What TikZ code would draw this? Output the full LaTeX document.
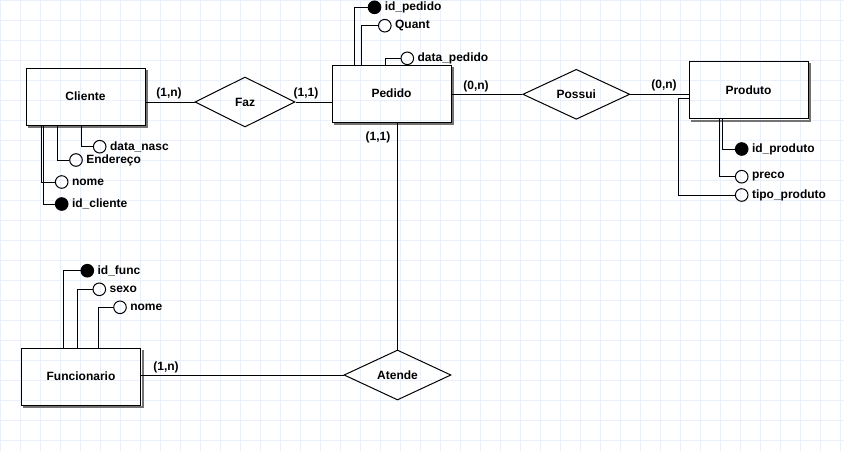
\documentclass[tikz,border=0pt]{standalone}
\usepackage{fontspec}
\setmainfont{Liberation Sans}
\usetikzlibrary{shapes.geometric}

\definecolor{corgrade}{RGB}{233,240,249}

\tikzset{
  grade/.style={draw=corgrade, line width=1pt},
  entidade/.style={draw, minimum width=119pt, minimum height=57pt, inner sep=0pt},
  sombra/.style={draw=black!55, line width=2pt},
  relac/.style={draw, diamond, aspect=2, inner sep=0pt, minimum height=50pt},
  atrib/.style={draw, circle, minimum size=12.6pt, inner sep=0pt,
    label={[inner sep=1pt, label distance=2pt]right:#1}},
  chave/.style={atrib=#1, fill=black},
  card/.style={inner sep=0pt}
}

\begin{document}
\begin{tikzpicture}[x=1pt, y=-1pt, line width=1pt, font=\fontsize{12}{14}\selectfont\bfseries]
\useasboundingbox[fill=white] (0,0) rectangle (844,451);
% grade de fundo
\foreach \gx in {0,20,...,840} \draw[grade] (\gx,0) -- (\gx,451);
\foreach \gy in {0,20,...,440} \draw[grade] (0,\gy) -- (844,\gy);

% entidades
\node[entidade] (cliente) at (85.5,96.5) {Cliente};
\node[entidade] (pedido) at (391.5,93.5) {Pedido};
\node[entidade] (produto) at (748.5,90) {Produto};
\node[entidade] (funcionario) at (81,376.5) {Funcionario};
\foreach \e in {cliente,pedido,produto,funcionario}
  \draw[sombra] ([shift={(1.5,2)}]\e.north east) -- ([shift={(1.5,1.5)}]\e.south east) -- ([shift={(2,1.5)}]\e.south west);

% relacionamentos
\node[relac, minimum width=100pt] (faz) at (245,102) {Faz};
\node[relac, minimum width=107pt] (possui) at (576.3,94.3) {Possui};
\node[relac, minimum width=107pt] (atende) at (397.5,375) {Atende};

\draw (faz.west) -- (faz.west -| cliente.east);
\draw (faz.east) -- (faz.east -| pedido.west);
\draw (possui.west) -- (possui.west -| pedido.east);
\draw (possui.east) -- (possui.east -| produto.west);
\draw (atende.north) -- (atende.north |- pedido.south);
\draw (atende.west) -- (atende.west -| funcionario.east);

% cardinalidades
\node[card] (c1) at (169,93) {(1,n)};
\node[card] (c2) at (306,93) {(1,1)};
\node[card] (c3) at (476,86) {(0,n)};
\node[card] (c4) at (664,85) {(0,n)};
\node[card] (c5) at (378,137) {(1,1)};
\node[card] (c6) at (166,367) {(1,n)};

% atributos Cliente
\node[atrib=data\_nasc] (dnasc) at (99.7,146.7) {};
\node[atrib=Endereço] (ender) at (76,160) {};
\node[atrib=nome] (cnome) at (61.7,182) {};
\node[chave=id\_cliente] (idcli) at (61.7,204) {};
\draw (dnasc.west) -| ([xshift=56pt]cliente.south west);
\draw (ender.west) -| ([xshift=32pt]cliente.south west);
\draw (cnome.west) -| ([xshift=16pt]cliente.south west);
\draw (idcli.west) -| ([xshift=18pt]cliente.south west);

% atributos Pedido
\node[chave=id\_pedido] (idped) at (374.5,7.3) {};
\node[atrib=Quant] (quant) at (384.8,25.7) {};
\node[atrib=data\_pedido] (dped) at (407.3,58.3) {};
\draw (idped.west) -| ([xshift=23pt]pedido.north west);
\draw (quant.west) -| ([xshift=30pt]pedido.north west);
\draw (dped.west) -| ([xshift=54pt]pedido.north west);

% atributos Produto
\node[chave=id\_produto] (idprod) at (741.7,149) {};
\node[atrib=preco] (preco) at (741.7,176.7) {};
\node[atrib=tipo\_produto] (tipo) at (741.7,195) {};
\draw (idprod.west) -| ([xshift=34pt]produto.south west);
\draw (preco.west) -| ([xshift=31pt]produto.south west);
\draw ([yshift=-8pt]produto.west) -- ++(-10,0) |- (tipo.west);

% atributos Funcionario
\node[chave=id\_func] (idfunc) at (87.3,270.7) {};
\node[atrib=sexo] (sexo) at (99.3,289.3) {};
\node[atrib=nome] (fnome) at (120,307.3) {};
\draw (idfunc.west) -| ([xshift=42pt]funcionario.north west);
\draw (sexo.west) -| ([xshift=56pt]funcionario.north west);
\draw (fnome.west) -| ([xshift=77pt]funcionario.north west);
\end{tikzpicture}
\end{document}
